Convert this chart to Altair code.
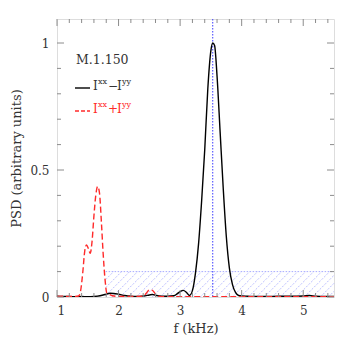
import altair as alt
import pandas as pd
import numpy as np

# ---- data ----
f_diff = [1.0, 1.1, 1.2, 1.3, 1.4, 1.5, 1.6, 1.7, 1.8, 1.86, 1.92, 2.0, 2.1, 2.2, 2.3, 2.4,
          2.5, 2.55, 2.6, 2.7, 2.8, 2.9, 2.95, 3.0, 3.05, 3.1, 3.15, 3.2, 3.25, 3.3, 3.35,
          3.4, 3.45, 3.5, 3.53, 3.56, 3.6, 3.65, 3.7, 3.75, 3.8, 3.85, 3.9, 3.95, 4.0, 4.1,
          4.2, 4.4, 4.6, 4.8, 5.0, 5.1, 5.2, 5.35, 5.5]
psd_diff = [0.003, 0.002, 0.002, 0.001, 0.002, 0.001, 0.002, 0.005, 0.011, 0.015, 0.014, 0.011,
            0.006, 0.003, 0.002, 0.004, 0.008, 0.010, 0.007, 0.003, 0.003, 0.005, 0.012, 0.021,
            0.026, 0.019, 0.006, 0.025, 0.095, 0.21, 0.38, 0.58, 0.82, 0.97, 1.0, 0.99, 0.87,
            0.65, 0.43, 0.24, 0.115, 0.05, 0.018, 0.006, 0.004, 0.003, 0.002, 0.002, 0.003,
            0.003, 0.004, 0.006, 0.003, 0.002, 0.002]

f_sum = [1.0, 1.1, 1.2, 1.3, 1.35, 1.38, 1.42, 1.45, 1.48, 1.51, 1.54, 1.57, 1.6, 1.63, 1.66,
         1.69, 1.72, 1.75, 1.78, 1.81, 1.85, 1.9, 2.0, 2.2, 2.4, 2.45, 2.5, 2.55, 2.6, 2.65,
         2.7, 3.0, 3.5, 4.0, 4.5, 5.0, 5.5]
psd_sum = [0.002, 0.003, 0.002, 0.002, 0.004, 0.02, 0.10, 0.18, 0.205, 0.19, 0.172, 0.22, 0.32,
           0.40, 0.435, 0.41, 0.30, 0.17, 0.07, 0.015, 0.01, 0.005, 0.002, 0.002, 0.003, 0.015,
           0.028, 0.026, 0.012, 0.003, 0.001, 0.001, 0.001, 0.001, 0.001, 0.001, 0.001]

peak_f = [3.53]
band_f = [1.79, 5.5]
band_psd = [0.0, 0.1]

x_major = [1, 2, 3, 4, 5]
x_minor = [round(1 + 0.2 * i, 2) for i in range(23) if (i % 5) != 0]
y_major = [0, 0.5, 1]
y_minor = [round(0.1 * i, 2) for i in range(11) if i not in (0, 5, 10)]

label_text = "M.1.150"
x_title = "f (kHz)"
y_title = "PSD (arbitrary units)"
legend_ops = ["−", "+"]

# ---- layout ----
W, H = 277, 278
FONT = "DejaVu Serif"
TXT = "#333333"
GRAY = "#8c8c8c"
RED = "#ff2a2a"

xs = alt.Scale(domain=[1, 5.5], nice=False, zero=False)
ys = alt.Scale(domain=[0, H / 254.0], nice=False, zero=False)

AX = alt.Axis(values=x_major, ticks=False, domain=False, grid=False, labelPadding=8,
              labelFont=FONT, labelFontSize=12, labelColor=TXT,
              titleFont=FONT, titleFontSize=13, titleFontWeight="normal",
              titleColor=TXT, titlePadding=6)
AY = alt.Axis(values=y_major, format=".1~f", ticks=False, domain=False, grid=False,
              labelPadding=8, labelFont=FONT, labelFontSize=12, labelColor=TXT,
              titleFont=FONT, titleFontSize=13, titleFontWeight="normal",
              titleColor=TXT, titlePadding=6)

def X(field):
    return alt.X(field, scale=xs, axis=AX, title=x_title)

def Y(field):
    return alt.Y(field, scale=ys, axis=AY, title=y_title)

df_diff = pd.DataFrame({"f": f_diff, "psd": psd_diff})
df_sum = pd.DataFrame({"f": f_sum, "psd": psd_sum})

# hatched band (decoration)
D = 0.1 * 254.0 / (W / 4.5)
hatch = pd.DataFrame({"x0": np.arange(band_f[0] - D, band_f[1], 0.13)})
hatch_layer = alt.Chart(hatch).transform_calculate(
    xs=f"max(datum.x0, {band_f[0]})",
    xe=f"min(datum.x0 + {D}, {band_f[1]})",
).transform_calculate(
    ys=f"(datum.xs - datum.x0) / {D} * 0.1",
    ye=f"(datum.xe - datum.x0) / {D} * 0.1",
).transform_filter("datum.xe > datum.xs").mark_rule(
    color="#a8acff", strokeWidth=0.8, strokeDash=[2, 1.5]
).encode(x=X("xs:Q"), x2="xe:Q", y=Y("ys:Q"), y2="ye:Q")

band_df = pd.DataFrame({"x": [band_f[0]], "x2": [band_f[1]], "y": [band_psd[0]], "y2": [band_psd[1]]})
band_top = alt.Chart(band_df).mark_rule(color="#a8acff", strokeWidth=1, strokeDash=[1.5, 1.5]).encode(
    x=X("x:Q"), x2="x2:Q", y=Y("y2:Q"))

vline = alt.Chart(pd.DataFrame({"f": peak_f})).mark_rule(
    color="#3a3aff", strokeWidth=1, strokeDash=[1.5, 1.5]
).encode(x=X("f:Q"), y=alt.value(0), y2=alt.value(H))

line_diff = alt.Chart(df_diff).mark_line(
    color="black", strokeWidth=1.4, interpolate="monotone", clip=True
).encode(x=X("f:Q"), y=Y("psd:Q"))

line_sum = alt.Chart(df_sum).mark_line(
    color=RED, strokeWidth=1.4, strokeDash=[6, 3], interpolate="monotone", clip=True
).encode(x=X("f:Q"), y=Y("psd:Q"))

# tick marks (inward, all four sides)
def xticks(vals, length):
    d = pd.DataFrame({"v": vals})
    b = alt.Chart(d).mark_rule(color=GRAY, strokeWidth=1).encode(
        x=X("v:Q"), y=alt.value(H), y2=alt.value(H - length))
    t = alt.Chart(d).mark_rule(color=GRAY, strokeWidth=1).encode(
        x=X("v:Q"), y=alt.value(0), y2=alt.value(length))
    return [b, t]

def yticks(vals, length):
    d = pd.DataFrame({"v": vals})
    l = alt.Chart(d).mark_rule(color=GRAY, strokeWidth=1).encode(
        y=Y("v:Q"), x=alt.value(0), x2=alt.value(length))
    r = alt.Chart(d).mark_rule(color=GRAY, strokeWidth=1).encode(
        y=Y("v:Q"), x=alt.value(W), x2=alt.value(W - length))
    return [l, r]

ticks = xticks(x_major, 7) + xticks(x_minor, 4) + yticks(y_major, 7) + yticks(y_minor, 4)

# legend / annotation
one = pd.DataFrame({"a": [0]})

def txt(s, x, y, size, color=TXT):
    return alt.Chart(one).mark_text(
        text=s, font=FONT, fontSize=size, align="left", baseline="middle", color=color
    ).encode(x=alt.value(x), y=alt.value(y))

def legend_label(op, y, color):
    return [
        txt("I", 36, y, 12, color),
        txt("xx", 41, y - 4, 8, color),
        txt(op, 51, y, 12, color),
        txt("I", 60, y, 12, color),
        txt("yy", 65, y - 4, 8, color),
    ]

title_txt = txt(label_text, 19, 41, 12.5)
leg_line1 = alt.Chart(one).mark_rule(color="black", strokeWidth=1.4).encode(
    x=alt.value(18), x2=alt.value(33), y=alt.value(69))
leg_line2 = alt.Chart(one).mark_rule(color=RED, strokeWidth=1.4, strokeDash=[4, 2]).encode(
    x=alt.value(18), x2=alt.value(33), y=alt.value(92))
legend = [title_txt, leg_line1, leg_line2] + legend_label(legend_ops[0], 67, TXT) \
    + legend_label(legend_ops[1], 90, RED)

chart = alt.layer(
    hatch_layer, band_top, vline, line_diff, line_sum, *ticks, *legend,
).properties(
    width=W, height=H,
    autosize=alt.AutoSizeParams(type="none"),
    padding={"left": 49, "top": 11, "right": 11, "bottom": 48},
).configure_view(stroke=GRAY, strokeWidth=1.5).configure(background="white")

chart.save("out.html", embed_options={"renderer": "svg", "actions": False})
